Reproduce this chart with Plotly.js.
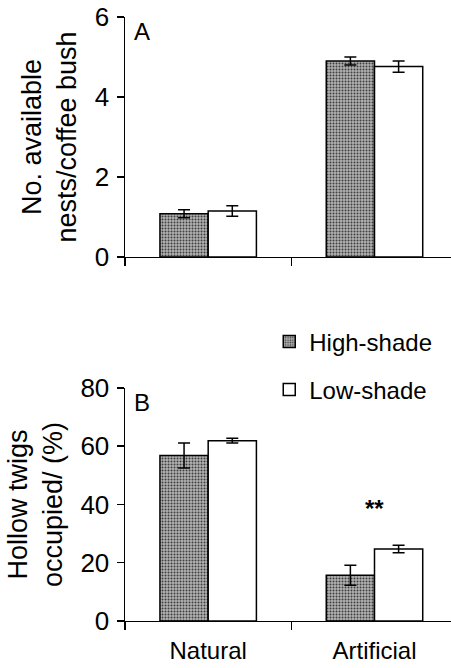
<!DOCTYPE html>
<html>
<head>
<meta charset="utf-8">
<script src="https://cdn.plot.ly/plotly-3.0.1.min.js"></script>
<style>html,body{margin:0;padding:0;background:#fff}#chart{width:451px;height:668px}</style>
</head>
<body>
<div id="chart"></div>
<script>
// Data
var categories = ["Natural", "Artificial"];
var seriesNames = ["High-shade", "Low-shade"];
// Panel A: No. available nests / coffee bush
var nestsHigh = [1.08, 4.90];
var nestsHighErr = [0.10, 0.10];
var nestsLow = [1.15, 4.76];
var nestsLowErr = [0.13, 0.14];
// Panel B: Hollow twigs occupied (%)
var twigsHigh = [56.8, 15.7];
var twigsHighErr = [4.3, 3.4];
var twigsLow = [61.9, 24.7];
var twigsLowErr = [0.8, 1.3];
var yTicksA = [0, 2, 4, 6];
var yTicksB = [0, 20, 40, 60, 80];

var FONT = "Liberation Sans, Arial, Helvetica, sans-serif";
var highFill = "#9a9a9a";
var highPattern = {shape: ".", fgcolor: "#3a3a3a", bgcolor: "#b4b4b4", size: 3, solidity: 0.35};
var lineStyle = {color: "#000", width: 1.5};

function bar(y, err, name, isHigh, xa, ya, showLeg) {
  return {
    type: "bar", x: categories, y: y, name: name,
    xaxis: xa, yaxis: ya, showlegend: showLeg, legendgroup: name,
    marker: isHigh ? {color: highFill, pattern: highPattern, line: lineStyle}
                   : {color: "#fff", line: lineStyle},
    error_y: {type: "data", array: err, visible: true, color: "#000", thickness: 1.5, width: 6}
  };
}

var data = [
  bar(nestsHigh, nestsHighErr, seriesNames[0], true, "x", "y", false),
  bar(nestsLow, nestsLowErr, seriesNames[1], false, "x", "y", false),
  bar(twigsHigh, twigsHighErr, seriesNames[0], true, "x2", "y2", true),
  bar(twigsLow, twigsLowErr, seriesNames[1], false, "x2", "y2", true)
];

var xBase = {
  type: "category", range: [-0.5, 1.46], showline: true, linecolor: "#000", linewidth: 1.5,
  ticks: "outside", tickson: "boundaries", ticklen: 8, tickwidth: 1.5, tickcolor: "#000",
  showgrid: false, zeroline: false, domain: [0.2772, 1], fixedrange: true,
  tickfont: {family: FONT, size: 24, color: "#000"}, ticklabelstandoff: 8
};
var yBase = {
  showline: true, linecolor: "#000", linewidth: 1.5, ticks: "outside", ticklen: 7,
  tickwidth: 1.5, tickcolor: "#000", showgrid: false, zeroline: false,
  tickfont: {family: FONT, size: 26, color: "#000"}, ticklabelstandoff: 2
};
var titleFont = {family: FONT, size: 27, color: "#000"};

var layout = {
  width: 451, height: 668,
  margin: {l: 0, r: 0, t: 0, b: 0},
  paper_bgcolor: "#fff", plot_bgcolor: "rgba(0,0,0,0)",
  barmode: "group", bargap: 0.42, bargroupgap: 0,
  showlegend: true,
  legend: {x: 0.597, y: 0.522, xanchor: "left", yanchor: "top",
           font: {family: FONT, size: 24, color: "#000"}, tracegroupgap: 14,
           bgcolor: "rgba(0,0,0,0)", itemwidth: 30},
  xaxis: Object.assign({}, xBase, {anchor: "y", showticklabels: false}),
  yaxis: Object.assign({}, yBase, {anchor: "x", domain: [0.6153, 0.9746], range: [0, 6],
    tickvals: yTicksA, ticktext: yTicksA.map(String),
    title: {text: "No. available<br>nests/coffee bush", font: titleFont, standoff: 10}}),
  xaxis2: Object.assign({}, xBase, {anchor: "y2", showticklabels: true}),
  yaxis2: Object.assign({}, yBase, {anchor: "x2", domain: [0.0704, 0.4192], range: [0, 80],
    tickvals: yTicksB, ticktext: yTicksB.map(String),
    title: {text: "Hollow twigs<br>occupied/ (%)", font: titleFont, standoff: 10}}),
  annotations: [
    {text: "A", xref: "paper", yref: "paper", x: 0.292, y: 0.976, xanchor: "left", yanchor: "top",
     showarrow: false, font: {family: FONT, size: 24, color: "#000"}},
    {text: "B", xref: "paper", yref: "paper", x: 0.292, y: 0.421, xanchor: "left", yanchor: "top",
     showarrow: false, font: {family: FONT, size: 24, color: "#000"}},
    {text: "<b>**</b>", xref: "x2", yref: "y2", x: "Artificial", y: 38.5, showarrow: false,
     font: {family: FONT, size: 24, color: "#000"}}
  ]
};

Plotly.newPlot("chart", data, layout, {staticPlot: true, displayModeBar: false});
</script>
</body>
</html>
